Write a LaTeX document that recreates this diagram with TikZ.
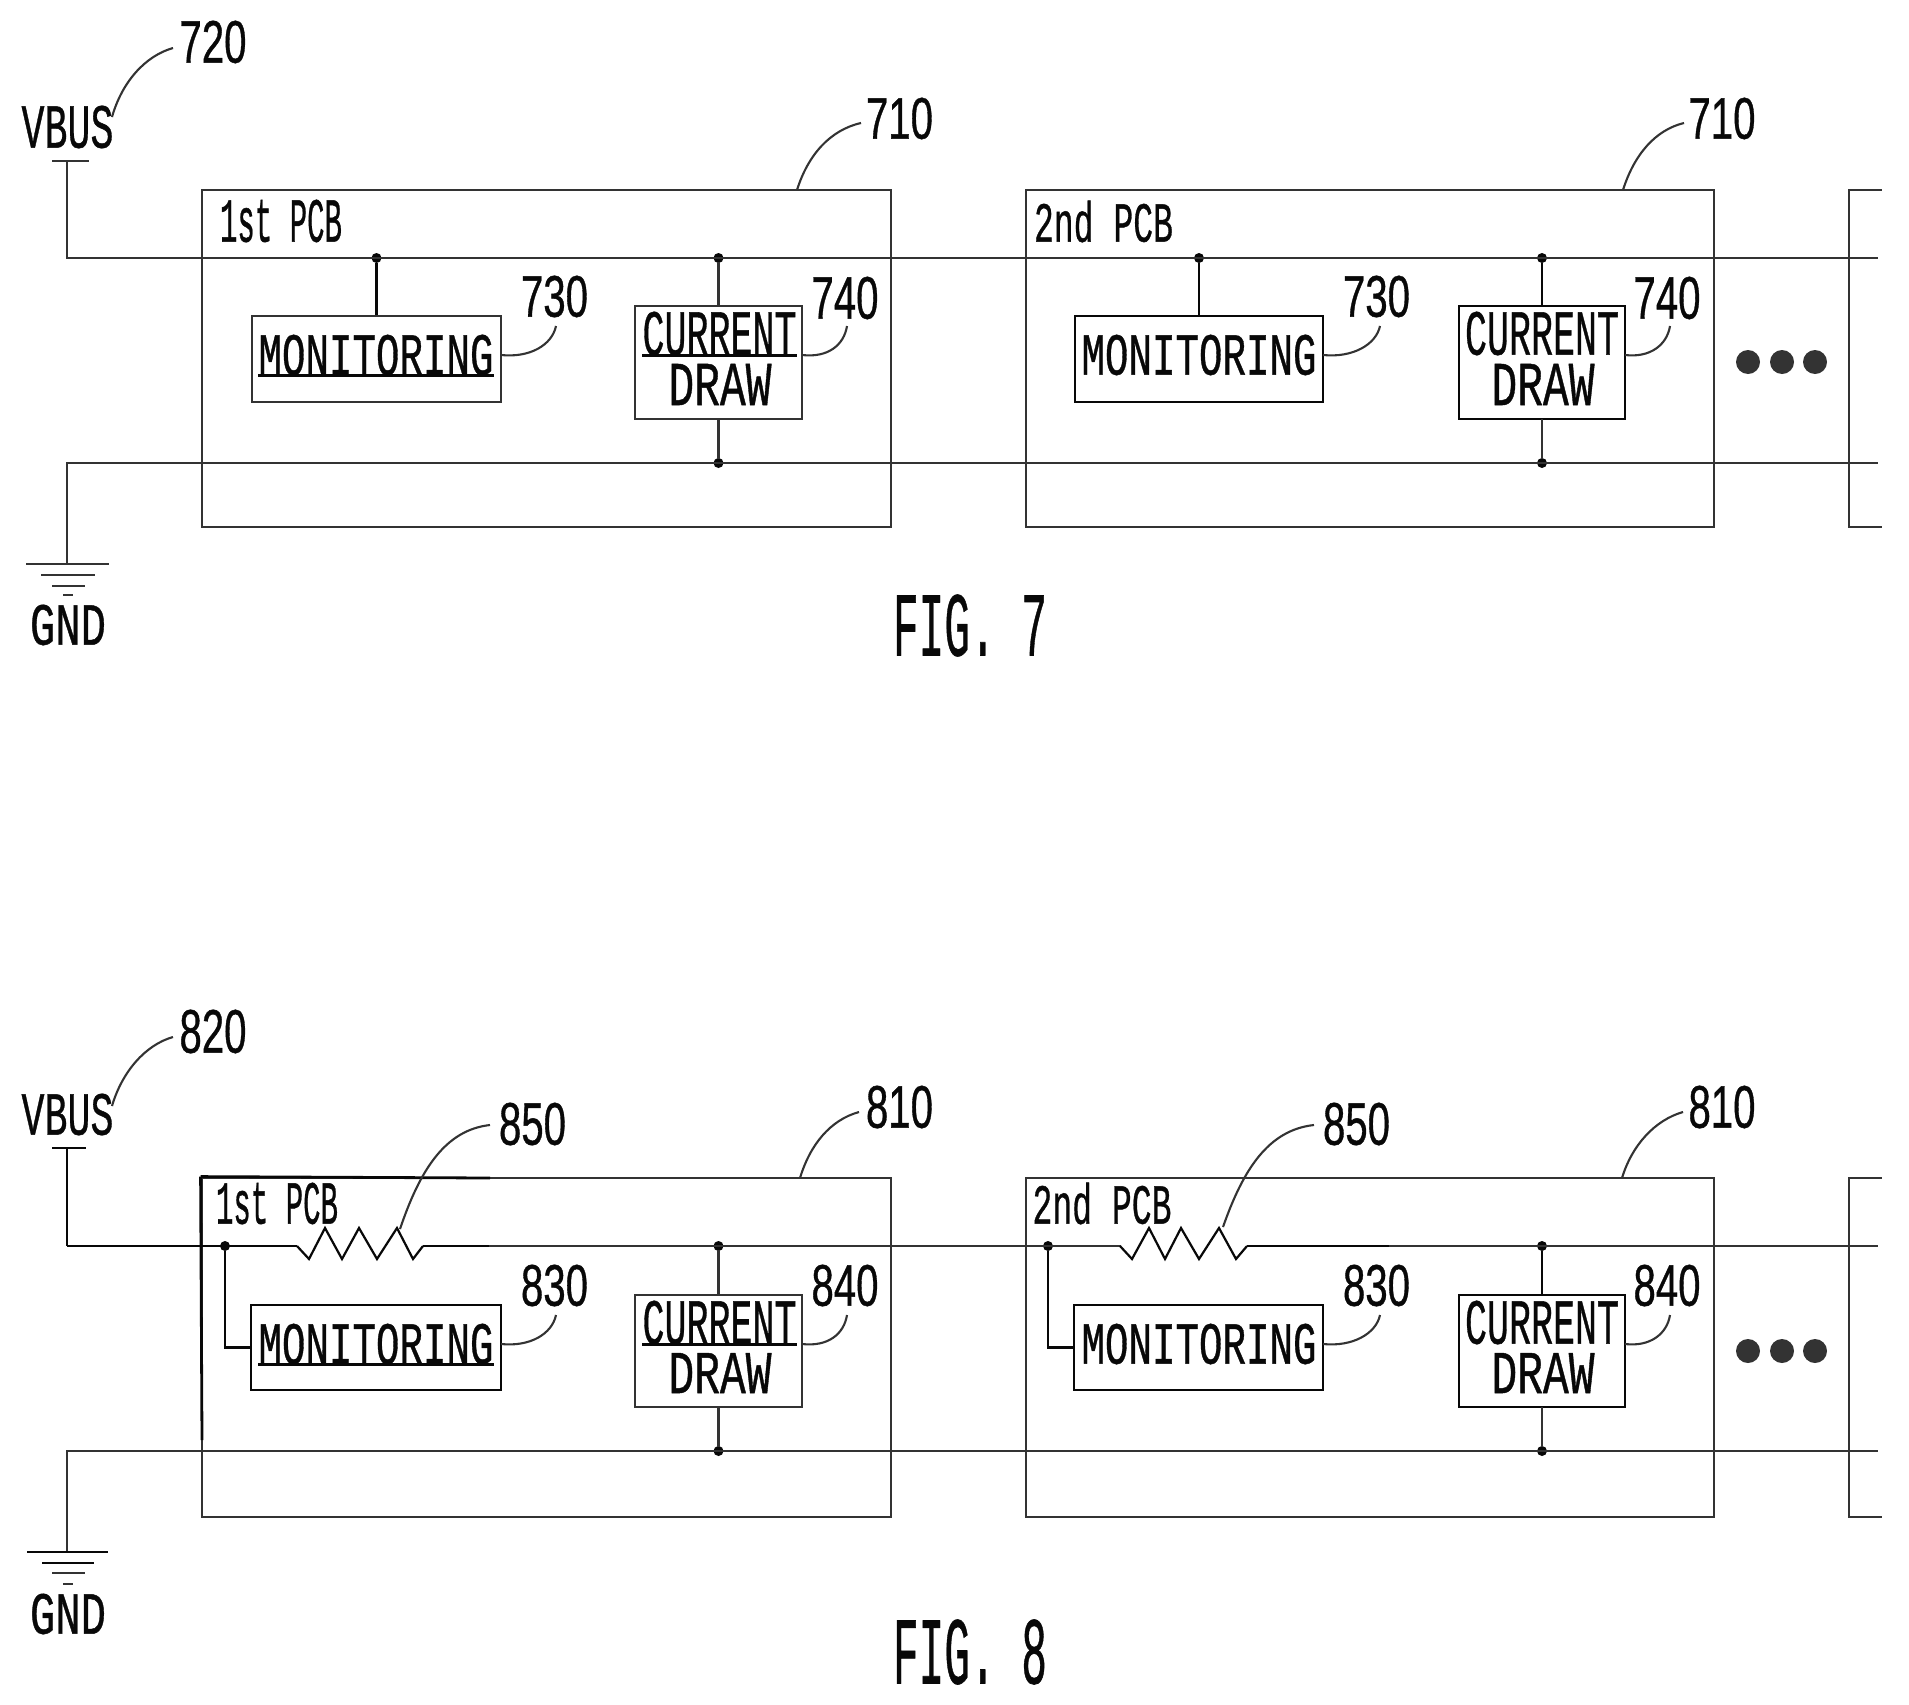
\documentclass[tikz,border=0pt]{standalone}
\usepackage{graphicx}
\usepackage{fontspec}
\setmainfont[FakeBold=0.8]{Liberation Mono}
\newfontfamily\numf[FakeBold=0.8]{Liberation Sans}
\definecolor{ink}{gray}{0.2}
\definecolor{solidink}{gray}{0.03}
\tikzset{
  x=1pt,y=-1pt,
  wire/.style={draw=ink,line width=2.8pt,line cap=rect},
  hardwire/.style={draw=solidink,line width=2.8pt},
  thinwire/.style={draw=solidink,line width=2.2pt},
  leadline/.style={draw=ink,line width=2.1pt},
  boxst/.style={draw=ink,line width=2.8pt,inner sep=0pt,rectangle},
  hardbox/.style={boxst,draw=solidink},
  junction/.style={circle,fill=solidink,inner sep=0pt,minimum size=10pt},
  bigdot/.style={circle,fill=ink,inner sep=0pt,minimum size=24pt},
  txt/.style={inner sep=0pt,outer sep=0pt,text=solidink},
  under/.style={draw=solidink,line width=2.4pt}
}
\newcommand{\lbl}[6]{\node[txt] (#1) at (#2,#3) {\resizebox{#4pt}{#5pt}{#6}};}
\newcommand{\num}[5]{\node[txt] (#1) at (#2,#3) {\resizebox{67pt}{#4pt}{\numf #5}};}
\begin{document}
\begin{tikzpicture}
\useasboundingbox (0,0) rectangle (1909,1705);
% ---------- FIG 7 ----------
\node[boxst,minimum width=689pt,minimum height=337pt] (pa) at (546.5,358.5) {};
\node[boxst,minimum width=688pt,minimum height=337pt] (pb) at (1370,358.5) {};
\node[boxst,minimum width=249pt,minimum height=86pt] (ma) at (376.5,359) {};
\node[hardbox,minimum width=248pt,minimum height=86pt] (mb) at (1199,359) {};
\node[boxst,minimum width=167pt,minimum height=113pt] (ca) at (718.5,362.5) {};
\node[hardbox,minimum width=166pt,minimum height=113pt] (cb) at (1542,362.5) {};
\lbl{tvb}{67.5}{127}{92}{42}{VBUS}
\lbl{tgn}{68}{625}{76}{40}{GND}
\num{nse}{213}{42}{42}{720}
\num{nao}{899.5}{118.5}{41}{710}
\num{nbo}{1722}{118.5}{41}{710}
\lbl{npa}{281}{221}{122}{42}{1st PCB}
\lbl{npb}{1103.5}{221.5}{139}{41}{2nd PCB}
\num{nma}{554.5}{296.5}{41}{730}
\num{nmb}{1376.5}{296.5}{41}{730}
\num{nca}{845}{298}{42}{740}
\num{ncb}{1667}{298}{42}{740}
\lbl{tma}{376}{355}{235}{40}{MONITORING}
\lbl{tmb}{1199}{355}{235}{40}{MONITORING}
\lbl{tca}{719.5}{333.5}{154}{43}{CURRENT}
\lbl{tda}{720}{384.5}{103}{41}{DRAW}
\lbl{tcb}{1542}{333.5}{154}{43}{CURRENT}
\lbl{tdb}{1543}{384.5}{103}{41}{DRAW}
\lbl{figa}{970}{625.5}{154}{61}{FIG. 7}
\draw[under] (tma.south west) -- (tma.south east);
\draw[under] (tca.south west) -- (tca.south east);
\node[junction] (ja) at (376.5,258) {};
\node[junction] (jb) at (718.5,258) {};
\node[junction] (jc) at (718.5,463) {};
\node[junction] (jd) at (1199,258) {};
\node[junction] (je) at (1542,258) {};
\node[junction] (jf) at (1542,463) {};
\coordinate (vbt) at (67,161);
\coordinate (vbl) at (53,161);
\coordinate (vbr) at (88,161);
\coordinate (busa) at (67,258);
\coordinate (busb) at (1877,258);
\coordinate (gna) at (67,463);
\coordinate (gnb) at (1877,463);
\coordinate (gnd) at (67,564);
\draw[wire] (vbl) -- (vbr);
\draw[wire] (vbt) -- (busa) -- (busb);
\draw[wire] (gnd) -- (gna) -- (gnb);
\draw[thinwire] (ja) -- (ma.north);
\draw[wire] (jb) -- (ca.north);
\draw[wire] (ca.south) -- (jc);
\draw[thinwire] (jd) -- (mb.north);
\draw[thinwire] (je) -- (cb.north);
\draw[wire] (cb.south) -- (jf);
\draw[wire] (27,564) -- (108,564);
\draw[wire] (42,575) -- (94,575);
\draw[wire] (53,586) -- (84,586);
\draw[wire] (64,595) -- (72,595);
\draw[wire] (1881,190) -- (1849,190) -- (1849,527) -- (1881,527);
\coordinate (la) at (112,117);\coordinate (lb) at (173,48);
\draw[leadline] (la) .. controls (122,82) and (145,56) .. (lb);
\coordinate (lc) at (797,190);\coordinate (ld) at (861,123);
\draw[leadline] (lc) .. controls (808,155) and (830,130) .. (ld);
\coordinate (le) at (1623,190);\coordinate (lf) at (1684,123);
\draw[leadline] (le) .. controls (1634,155) and (1655,130) .. (lf);
\coordinate (lg) at (501,355);\coordinate (lh) at (556,326);
\draw[leadline] (lg) .. controls (530,358) and (552,345) .. (lh);
\coordinate (li) at (802,355);\coordinate (lj) at (847,326);
\draw[leadline] (li) .. controls (828,358) and (844,345) .. (lj);
\coordinate (lk) at (1323,355);\coordinate (ll) at (1380,326);
\draw[leadline] (lk) .. controls (1352,358) and (1376,345) .. (ll);
\coordinate (lm) at (1625,355);\coordinate (ln) at (1670,326);
\draw[leadline] (lm) .. controls (1650,358) and (1667,345) .. (ln);
\node[bigdot] (ea) at (1748,362) {};
\node[bigdot] (eb) at (1782,362) {};
\node[bigdot] (ec) at (1815,362) {};
% ---------- FIG 8 ----------
\node[boxst,minimum width=689pt,minimum height=339pt] (qa) at (546.5,1347.5) {};
\node[boxst,minimum width=688pt,minimum height=339pt] (qb) at (1370,1347.5) {};
\node[hardbox,minimum width=250pt,minimum height=85pt] (ra) at (376,1347.5) {};
\node[hardbox,minimum width=249pt,minimum height=85pt] (rb) at (1198.5,1347.5) {};
\node[boxst,minimum width=167pt,minimum height=112pt] (sa) at (718.5,1351) {};
\node[hardbox,minimum width=166pt,minimum height=112pt] (sb) at (1542,1351) {};
\lbl{uvb}{67.5}{1114.5}{92}{41}{VBUS}
\lbl{ugn}{68}{1614}{76}{40}{GND}
\num{use}{213}{1031.5}{43}{820}
\num{uao}{899.5}{1107}{42}{810}
\num{ubo}{1722}{1107}{42}{810}
\num{ura}{532.5}{1124}{42}{850}
\num{urb}{1356.5}{1124}{42}{850}
\lbl{upa}{277}{1203.5}{122}{41}{1st PCB}
\lbl{upb}{1102}{1203.5}{139}{41}{2nd PCB}
\num{uma}{554.5}{1285.5}{41}{830}
\num{umb}{1376.5}{1285.5}{41}{830}
\num{uca}{845}{1285.5}{41}{840}
\num{ucb}{1667}{1285.5}{41}{840}
\lbl{vma}{376}{1344}{235}{40}{MONITORING}
\lbl{vmb}{1199}{1344}{235}{40}{MONITORING}
\lbl{vca}{719.5}{1322.5}{154}{43}{CURRENT}
\lbl{vda}{720}{1373}{103}{40}{DRAW}
\lbl{vcb}{1542}{1322.5}{154}{43}{CURRENT}
\lbl{vdb}{1543}{1373}{103}{40}{DRAW}
\lbl{figb}{970}{1652}{154}{64}{FIG. 8}
\draw[under] (vma.south west) -- (vma.south east);
\draw[under] (vca.south west) -- (vca.south east);
\node[junction] (ka) at (225,1246) {};
\node[junction] (kb) at (718.5,1246) {};
\node[junction] (kc) at (718.5,1451) {};
\node[junction] (kd) at (1048,1246) {};
\node[junction] (ke) at (1542,1246) {};
\node[junction] (kf) at (1542,1451) {};
\coordinate (wbt) at (67,1148);
\coordinate (wbl) at (52,1148);
\coordinate (wbr) at (86,1148);
\coordinate (wa) at (67,1246);
\coordinate (wsa) at (297,1246);
\coordinate (wsb) at (423,1246);
\coordinate (wh) at (490,1246);
\coordinate (wta) at (1120,1246);
\coordinate (wtb) at (1247,1246);
\coordinate (wti) at (1390,1246);
\coordinate (wz) at (1877,1246);
\coordinate (xa) at (67,1451);
\coordinate (xb) at (1877,1451);
\coordinate (xg) at (67,1552);
\draw[hardwire] (wbl) -- (wbr);
\draw[thinwire] (wbt) -- (wa);
\draw[hardwire] (wa) -- (wsa);
\draw[thinwire] (wsa) -- (309,1259) -- (325,1228) -- (342,1259) -- (359,1228) -- (377,1259) -- (397,1228) -- (413,1259) -- (wsb);
\draw[hardwire] (wsb) -- (wh);
\draw[wire] (wh) -- (wta);
\draw[thinwire] (wta) -- (1132,1259) -- (1149,1228) -- (1165,1259) -- (1181,1228) -- (1199,1259) -- (1219,1228) -- (1236,1259) -- (wtb);
\draw[thinwire] (wtb) -- (wti);
\draw[wire] (wti) -- (wz);
\draw[wire] (xg) -- (xa) -- (xb);
\draw[hardwire] (qa.north west) -- (490,1178);
\draw[hardwire] (qa.north west) -- (202,1440);
\draw[thinwire] (ka) |- (ra.west);
\draw[wire] (kb) -- (sa.north);
\draw[wire] (sa.south) -- (kc);
\draw[thinwire] (kd) |- (rb.west);
\draw[thinwire] (ke) -- (sb.north);
\draw[wire] (sb.south) -- (kf);
\draw[hardwire] (27,1552) -- (108,1552);
\draw[hardwire] (42,1563) -- (94,1563);
\draw[wire] (53,1573) -- (84,1573);
\draw[wire] (64,1584) -- (72,1584);
\draw[wire] (1881,1178) -- (1849,1178) -- (1849,1517) -- (1881,1517);
\coordinate (ma1) at (112,1106);\coordinate (mb1) at (173,1037);
\draw[leadline] (ma1) .. controls (122,1072) and (145,1045) .. (mb1);
\coordinate (mc1) at (400,1229);\coordinate (md1) at (490,1125);
\draw[leadline] (mc1) .. controls (420,1170) and (445,1130) .. (md1);
\coordinate (me1) at (1223,1227);\coordinate (mf1) at (1314,1125);
\draw[leadline] (me1) .. controls (1243,1170) and (1268,1130) .. (mf1);
\coordinate (mg1) at (800,1178);\coordinate (mh1) at (859,1112);
\draw[leadline] (mg1) .. controls (810,1145) and (830,1120) .. (mh1);
\coordinate (mi1) at (1622,1178);\coordinate (mj1) at (1683,1112);
\draw[leadline] (mi1) .. controls (1632,1145) and (1655,1120) .. (mj1);
\coordinate (mk1) at (501,1344);\coordinate (ml1) at (556,1315);
\draw[leadline] (mk1) .. controls (530,1347) and (552,1334) .. (ml1);
\coordinate (mm1) at (802,1344);\coordinate (mn1) at (847,1315);
\draw[leadline] (mm1) .. controls (828,1347) and (844,1334) .. (mn1);
\coordinate (mo1) at (1323,1344);\coordinate (mp1) at (1380,1315);
\draw[leadline] (mo1) .. controls (1352,1347) and (1376,1334) .. (mp1);
\coordinate (mq1) at (1625,1344);\coordinate (mr1) at (1670,1315);
\draw[leadline] (mq1) .. controls (1650,1347) and (1667,1334) .. (mr1);
\node[bigdot] (fa) at (1748,1351) {};
\node[bigdot] (fb) at (1782,1351) {};
\node[bigdot] (fc) at (1815,1351) {};
\end{tikzpicture}
\end{document}
